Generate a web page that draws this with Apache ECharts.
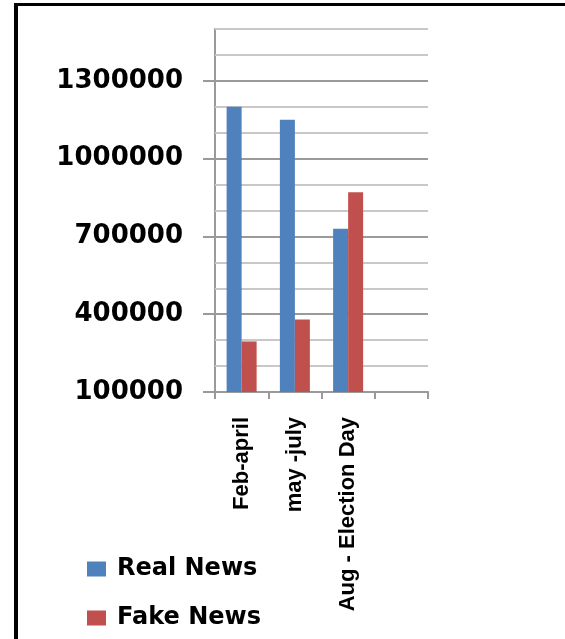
<!DOCTYPE html>
<html>
<head>
<meta charset="utf-8">
<script src="https://cdn.jsdelivr.net/npm/echarts@6/dist/echarts.min.js"></script>
<style>
html,body{margin:0;padding:0;background:#fff;}
#chart{width:565px;height:639px;}
</style>
</head>
<body>
<div id="chart"></div>
<script>
const categories = ['Feb-april', 'may -july', 'Aug - Election Day', ''];
const realNews = [1200000, 1150000, 730000, null];
const fakeNews = [295000, 380000, 870000, null];
const yTickLabels = [100000, 400000, 700000, 1000000, 1300000];
const yMin = 100000;
const yMax = 1500000;
const yStep = 100000;

const gridValues = [];
for (let v = yMin + yStep; v <= yMax; v += yStep) gridValues.push(v);

const chart = echarts.init(document.getElementById('chart'));
chart.setOption({
  backgroundColor: '#ffffff',
  animation: false,
  grid: { left: 215, right: 137, top: 29, bottom: 247 },
  legend: {
    orient: 'vertical',
    left: 82,
    top: 552,
    itemWidth: 19,
    itemHeight: 15,
    itemGap: 25,
    icon: 'rect',
    textStyle: {
      fontFamily: 'DejaVu Sans',
      fontWeight: 'bold',
      fontSize: 24,
      lineHeight: 24,
      color: '#000',
      padding: [0, 0, 0, 6]
    },
    data: ['Real News', 'Fake News']
  },
  xAxis: {
    type: 'category',
    data: categories,
    boundaryGap: true,
    axisLine: { lineStyle: { color: '#9a9a9a', width: 2 } },
    axisTick: { show: true, length: 7, lineStyle: { color: '#9a9a9a', width: 2 } },
    axisLabel: {
      rotate: 90,
      margin: 25,
      interval: 0,
      fontFamily: 'Liberation Sans',
      fontWeight: 'bold',
      fontSize: 22,
      color: '#000'
    },
    splitLine: { show: false }
  },
  yAxis: {
    type: 'value',
    min: yMin,
    max: yMax,
    interval: yStep,
    axisLine: { show: true, lineStyle: { color: '#9a9a9a', width: 2 } },
    axisTick: { show: true, length: 12, customValues: yTickLabels, lineStyle: { color: '#9a9a9a', width: 2 } },
    axisLabel: {
      customValues: yTickLabels,
      margin: 32,
      formatter: v => String(v),
      fontFamily: 'DejaVu Sans',
      fontWeight: 'bold',
      fontSize: 26,
      color: '#000'
    },
    splitLine: { show: false }
  },
  series: [
    {
      name: 'gridlines',
      type: 'line',
      data: [],
      silent: true,
      z: 1,
      markLine: {
        silent: true,
        symbol: 'none',
        label: { show: false },
        emphasis: { disabled: true },
        data: gridValues.map(v => ({
          yAxis: v,
          lineStyle: {
            color: yTickLabels.includes(v) ? '#9a9a9a' : '#c8c8c8',
            width: 2,
            type: 'solid'
          }
        }))
      }
    },
    {
      name: 'Real News',
      type: 'bar',
      data: realNews,
      barWidth: 15,
      barGap: '0%',
      itemStyle: { color: '#4F81BD' },
      z: 5
    },
    {
      name: 'Fake News',
      type: 'bar',
      data: fakeNews,
      barWidth: 15,
      barGap: '0%',
      itemStyle: { color: '#C0504D' },
      z: 5
    }
  ],
  graphic: [
    { type: 'rect', shape: { x: 14, y: 3, width: 551, height: 3 }, style: { fill: '#000' }, silent: true },
    { type: 'rect', shape: { x: 14, y: 3, width: 4, height: 636 }, style: { fill: '#000' }, silent: true }
  ]
});
</script>
</body>
</html>
